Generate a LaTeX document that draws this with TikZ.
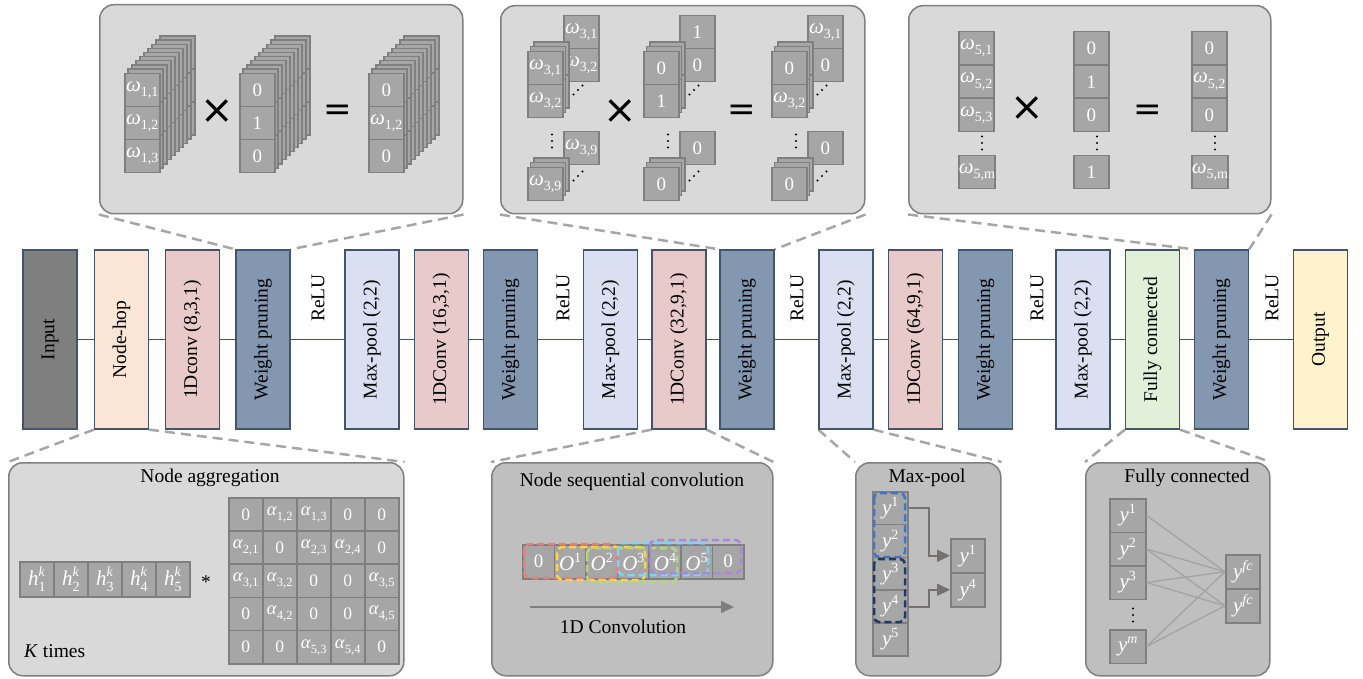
\documentclass[tikz,border=0pt]{standalone}
\usepackage{fontspec}
\setmainfont{Liberation Serif}
\newfontfamily\symfont{DejaVu Sans}
\usetikzlibrary{arrows.meta,backgrounds}
\definecolor{cellf}{HTML}{A6A6A6}
\definecolor{cellb}{HTML}{7F7F7F}
\definecolor{panA}{HTML}{D9D9D9}
\definecolor{panB}{HTML}{BFBFBF}
\definecolor{panbd}{HTML}{7F7F7F}
\definecolor{boxbd}{HTML}{44546A}
\definecolor{cInput}{HTML}{7F7F7F}
\definecolor{cHop}{HTML}{FBE5D6}
\definecolor{cConv}{HTML}{E9CACA}
\definecolor{cWP}{HTML}{8497B0}
\definecolor{cMP}{HTML}{DAE0F2}
\definecolor{cFC}{HTML}{E2F0D9}
\definecolor{cOut}{HTML}{FFF2CC}
\definecolor{dashc}{HTML}{A6A6A6}
\definecolor{arrc}{HTML}{7F7F7F}
\definecolor{mpc}{HTML}{767171}
\definecolor{fcl}{HTML}{A3A3A3}
\definecolor{wRed}{HTML}{EC7C7C}
\definecolor{wYel}{HTML}{FFD447}
\definecolor{wGrn}{HTML}{B4D77D}
\definecolor{wCya}{HTML}{7FD3F7}
\definecolor{wPur}{HTML}{A987D9}
\definecolor{mpBlue}{HTML}{4472C4}
\definecolor{mpNavy}{HTML}{203864}
\newcommand\lbl{\fontsize{19.5}{22}\selectfont}
\newcommand\celltxt{\fontsize{19}{20}\selectfont\def\subsz{14}\def\letsz{21}}
\newcommand\smtxt{\fontsize{17.5}{18}\selectfont\def\subsz{12.5}\def\letsz{18.5}}
\newcommand\subsz{14}
\newcommand\letsz{21}
\newcommand\msub[2]{{\fontsize{\letsz}{\letsz}\selectfont\textit{#1}}\raisebox{-0.28em}{\fontsize{\subsz}{\subsz}\selectfont #2}}
\newcommand\msup[2]{{\fontsize{\letsz}{\letsz}\selectfont\textit{#1}}\raisebox{0.42em}{\fontsize{\subsz}{\subsz}\selectfont #2}}
\newcommand\msubsup[3]{{\fontsize{\letsz}{\letsz}\selectfont\textit{#1}}\rlap{\raisebox{0.45em}{\fontsize{\subsz}{\subsz}\selectfont\textit{#3}}}\raisebox{-0.3em}{\fontsize{\subsz}{\subsz}\selectfont #2}}
\newcommand{\mystack}[6]{%
  \foreach \i in {#4,...,1}{%
    \foreach \j in {1,...,#3}{%
      \filldraw[cellst] ({#1+\i*#5},{#2-\i*#6+(\j-1)*33}) rectangle ++(35,33);
    }%
  }%
}
\newcommand{\diagdots}[2]{\fill[black] ({#1-4.5},{#2+4.5}) circle (1.1pt) (#1,#2) circle (1.1pt) ({#1+4.5},{#2-4.5}) circle (1.1pt);}
\newcommand{\vdotsat}[2]{\fill[black] (#1,{#2-6.5}) circle (1.1pt) (#1,#2) circle (1.1pt) (#1,{#2+6.5}) circle (1.1pt);}
\newcommand{\pgroup}[8]{%
  \node[cell] (#1b1) at ({563+#2},15) {#3};
  \node[cell] (#1b2) at ({563+#2},48) {#4};
  \mystack{527+#2}{51}{2}{2}{3.5}{4.5}
  \node[cell] (#1f1) at ({527+#2},51) {#5};
  \node[cell] (#1f2) at ({527+#2},84) {#6};
  \diagdots{578+#2}{90}
  \vdotsat{552+#2}{141}
  \node[cell] (#1bb) at ({563+#2},131) {#7};
  \mystack{527+#2}{167}{1}{2}{3.5}{4.5}
  \node[cell] (#1fb) at ({527+#2},167) {#8};
  \diagdots{578+#2}{176}
}
\tikzset{
 layer/.style={draw=boxbd, line width=1.3pt, minimum width=54pt, minimum height=179pt, inner sep=0pt, font=\lbl},
 relu/.style={inner sep=0pt, font=\lbl},
 link/.style={draw=boxbd, line width=1.5pt},
 panel/.style={draw=panbd, line width=1.5pt, rounded corners=14pt, anchor=north west, inner sep=0pt},
 cell/.style={draw=cellb, fill=cellf, line width=1.5pt, minimum width=35pt, minimum height=33pt, inner sep=0pt, text=white, font=\celltxt, anchor=north west},
 acell/.style={cell, minimum width=34pt, minimum height=33.2pt, font=\smtxt},
 cellst/.style={draw=cellb, fill=cellf, line width=1.5pt},
 zoomline/.style={draw=dashc, line width=2.5pt, dash pattern=on 10pt off 6pt},
 opx/.style={inner sep=0pt, font=\symfont\fontsize{40}{40}\selectfont},
 opeq/.style={inner sep=0pt, font=\symfont\fontsize{34}{34}\selectfont},
 ttl/.style={inner sep=0pt, font=\lbl},
 win/.style={line width=2.5pt, dash pattern=on 7pt off 4pt, rounded corners=6pt},
 bigarrow/.style={draw=arrc, line width=2pt, -{Triangle[length=13pt,width=12pt]}},
 mparrow/.style={draw=mpc, line width=2pt, -{Triangle[length=13pt,width=12pt]}},
 fcline/.style={draw=fcl, line width=1.3pt},
}
\begin{document}
\begin{tikzpicture}[x=1pt,y=-1pt]
\useasboundingbox (0,0) rectangle (1363,679);

% ---------- main pipeline ----------
\node[layer,fill=cInput] (in) at (50,339.5) {\rotatebox{90}{Input}};
\node[layer,fill=cHop] (nh) at (121.5,339.5) {\rotatebox{90}{Node-hop}};
\node[layer,fill=cConv] (c1) at (192.5,339.5) {\rotatebox{90}{1Dconv (8,3,1)}};
\node[layer,fill=cWP] (w1) at (263,339.5) {\rotatebox{90}{Weight pruning}};
\node[relu] (r1) at (318,298) {\rotatebox{90}{ReLU}};
\node[layer,fill=cMP] (m1) at (372,339.5) {\rotatebox{90}{Max-pool (2,2)}};
\node[layer,fill=cConv] (c2) at (441.5,339.5) {\rotatebox{90}{1DConv (16,3,1)}};
\node[layer,fill=cWP] (w2) at (510.5,339.5) {\rotatebox{90}{Weight pruning}};
\node[relu] (r2) at (563,298) {\rotatebox{90}{ReLU}};
\node[layer,fill=cMP] (m2) at (610.5,339.5) {\rotatebox{90}{Max-pool (2,2)}};
\node[layer,fill=cConv] (c3) at (679,339.5) {\rotatebox{90}{1DConv (32,9,1)}};
\node[layer,fill=cWP] (w3) at (747,339.5) {\rotatebox{90}{Weight pruning}};
\node[relu] (r3) at (797,298) {\rotatebox{90}{ReLU}};
\node[layer,fill=cMP] (m3) at (846,339.5) {\rotatebox{90}{Max-pool (2,2)}};
\node[layer,fill=cConv] (c4) at (915.5,339.5) {\rotatebox{90}{1DConv (64,9,1)}};
\node[layer,fill=cWP] (w4) at (985.5,339.5) {\rotatebox{90}{Weight pruning}};
\node[relu] (r4) at (1037,298) {\rotatebox{90}{ReLU}};
\node[layer,fill=cMP] (m4) at (1083,339.5) {\rotatebox{90}{Max-pool (2,2)}};
\node[layer,fill=cFC] (fc) at (1152.5,339.5) {\rotatebox{90}{Fully connected}};
\node[layer,fill=cWP] (w5) at (1221.5,339.5) {\rotatebox{90}{Weight pruning}};
\node[relu] (r5) at (1272,298) {\rotatebox{90}{ReLU}};
\node[layer,fill=cOut] (out) at (1320.5,339.5) {\rotatebox{90}{Output}};
\foreach \a/\b in {in/nh,nh/c1,c1/w1,w1/m1,m1/c2,c2/w2,w2/m2,m2/c3,c3/w3,w3/m3,m3/c4,c4/w4,w4/m4,m4/fc,fc/w5,w5/out}
  \draw[link] (\a.east) -- (\b.west);

% ---------- panels ----------
\node[panel,fill=panA,minimum width=363pt,minimum height=209pt] (p1) at (99,4) {};
\node[panel,fill=panA,minimum width=364pt,minimum height=208pt] (p2) at (500,5) {};
\node[panel,fill=panA,minimum width=362pt,minimum height=208pt] (p3) at (908,5) {};
\node[panel,fill=panA,minimum width=395pt,minimum height=213pt] (pagg) at (8,462) {};
\node[panel,fill=panB,minimum width=281pt,minimum height=213pt] (pseq) at (491,462) {};
\node[panel,fill=panB,minimum width=145pt,minimum height=213pt] (pmp) at (855,462) {};
\node[panel,fill=panB,minimum width=184pt,minimum height=213pt] (pfc) at (1085,462) {};

\begin{scope}[on background layer]
\draw[zoomline] (p1.south west) -- (w1.north west);
\draw[zoomline] (p1.south east) -- (w1.north east);
\draw[zoomline] (p2.south west) -- (w3.north west);
\draw[zoomline] (p2.south east) -- (w3.north east);
\draw[zoomline] (p3.south west) -- (w5.north west);
\draw[zoomline] (p3.south east) -- (w5.north east);
\draw[zoomline] (nh.south west) -- (pagg.north west);
\draw[zoomline] (nh.south east) -- (pagg.north east);
\draw[zoomline] (c3.south west) -- (pseq.north west);
\draw[zoomline] (c3.south east) -- (pseq.north east);
\draw[zoomline] (m3.south west) -- (pmp.north west);
\draw[zoomline] (m3.south east) -- (pmp.north east);
\draw[zoomline] (fc.south west) -- (pfc.north west);
\draw[zoomline] (fc.south east) -- (pfc.north east);
\end{scope}

% ---------- panel 1 ----------
\mystack{124}{73}{3}{9}{4}{4.1}
\node[cell] (pa1) at (124,73) {\msub{ω}{1,1}};
\node[cell] (pa2) at (124,106) {\msub{ω}{1,2}};
\node[cell] (pa3) at (124,139) {\msub{ω}{1,3}};
\node[opx] (x1) at (217,112) {×};
\mystack{239}{73}{3}{9}{4}{4.1}
\node[cell] (pb1) at (239,73) {0};
\node[cell] (pb2) at (239,106) {1};
\node[cell] (pb3) at (239,139) {0};
\node[opeq] (e1) at (338,113) {=};
\mystack{368}{73}{3}{9}{4}{4.1}
\node[cell] (pc1) at (368,73) {0};
\node[cell] (pc2) at (368,106) {\msub{ω}{1,2}};
\node[cell] (pc3) at (368,139) {0};

% ---------- panel 2 ----------
\pgroup{L}{0}{\msub{ω}{3,1}}{\msub{ω}{3,2}}{\msub{ω}{3,1}}{\msub{ω}{3,2}}{\msub{ω}{3,9}}{\msub{ω}{3,9}}
\node[opx] (x2) at (620,112) {×};
\pgroup{M}{116}{1}{0}{0}{1}{0}{0}
\node[opeq] (e2) at (742,113) {=};
\pgroup{R}{244}{\msub{ω}{3,1}}{0}{0}{\msub{ω}{3,2}}{0}{0}

% ---------- panel 3 ----------
\begin{scope}[every node/.append style={minimum height=33.5pt}]
\node[cell] (q1) at (958,31) {\msub{ω}{5,1}};
\node[cell] (q2) at (958,64.5) {\msub{ω}{5,2}};
\node[cell] (q3) at (958,98) {\msub{ω}{5,3}};
\node[cell] (q4) at (958,155) {\msub{ω}{5,m}};
\node[cell] (s1) at (1073,31) {0};
\node[cell] (s2) at (1073,64.5) {1};
\node[cell] (s3) at (1073,98) {0};
\node[cell] (s4) at (1073,155) {1};
\node[cell] (t1) at (1191,31) {0};
\node[cell] (t2) at (1191,64.5) {\msub{ω}{5,2}};
\node[cell] (t3) at (1191,98) {0};
\node[cell] (t4) at (1191,155) {\msub{ω}{5,m}};
\end{scope}
\vdotsat{982}{143}
\vdotsat{1097}{143}
\vdotsat{1215}{143}
\node[opx] (x3) at (1027,109) {×};
\node[opeq] (e3) at (1148,113) {=};

% ---------- node aggregation ----------
\node[ttl] (tagg) at (210,478) {Node aggregation};
\foreach \k in {1,...,5}
  \node[cell,minimum width=34pt,minimum height=35pt] (h\k) at ({19+(\k-1)*34},561) {\msubsup{h}{\k}{k}};
\node[ttl] (ast) at (206,582) {*};
\foreach \lab [count=\c from 0] in {0,{\msub{α}{1,2}},{\msub{α}{1,3}},0,0}
  \node[acell] (ma\c) at ({228+\c*34},497) {\lab};
\foreach \lab [count=\c from 0] in {{\msub{α}{2,1}},0,{\msub{α}{2,3}},{\msub{α}{2,4}},0}
  \node[acell] (mb\c) at ({228+\c*34},530.2) {\lab};
\foreach \lab [count=\c from 0] in {{\msub{α}{3,1}},{\msub{α}{3,2}},0,0,{\msub{α}{3,5}}}
  \node[acell] (mc\c) at ({228+\c*34},563.4) {\lab};
\foreach \lab [count=\c from 0] in {0,{\msub{α}{4,2}},0,0,{\msub{α}{4,5}}}
  \node[acell] (md\c) at ({228+\c*34},596.6) {\lab};
\foreach \lab [count=\c from 0] in {0,0,{\msub{α}{5,3}},{\msub{α}{5,4}},0}
  \node[acell] (me\c) at ({228+\c*34},629.8) {\lab};
\node[ttl,anchor=west] (kt) at (24,651) {\textit{K} times};

% ---------- node sequential convolution ----------
\node[ttl] (tseq) at (632,482) {Node sequential convolution};
\foreach \lab [count=\c from 0] in {0,{\msup{O}{1}},{\msup{O}{2}},{\msup{O}{3}},{\msup{O}{4}},{\msup{O}{5}},0}
  \node[cell,minimum width=31.6pt,minimum height=34pt] (o\c) at ({522+\c*31.6},544) {\lab};
\draw[win,draw=wRed] (524,544) rectangle (617,578);
\draw[win,draw=wYel] (557,547) rectangle (645,580);
\draw[win,draw=wGrn] (587,548) rectangle (677,582);
\draw[win,draw=wCya] (618,543) rectangle (708,575);
\draw[win,draw=wPur] (650,540) rectangle (741,573);
\coordinate (as) at (530,607);
\coordinate (ae) at (734,607);
\draw[bigarrow] (as) -- (ae);
\node[ttl] (tconv) at (623,627) {1D Convolution};

% ---------- max-pool ----------
\node[ttl] (tmp) at (927,478) {Max-pool};
\foreach \k in {1,...,5}
  \node[cell,minimum width=35pt,minimum height=32.8pt] (y\k) at (872,{491+(\k-1)*32.8}) {\msup{y}{\k}};
\node[cell,minimum width=34pt,minimum height=34pt] (yo1) at (950,538) {\msup{y}{1}};
\node[cell,minimum width=34pt,minimum height=34pt] (yo2) at (950,572) {\msup{y}{4}};
\draw[mparrow] (y1.east) -- ++(20,0) |- (yo1.west);
\draw[mparrow] (y4.east) -- ++(20,0) |- (yo2.west);
\draw[win,draw=mpBlue,rounded corners=5pt] (874,493) rectangle (905,557);
\draw[win,draw=mpNavy,rounded corners=5pt] (874,559) rectangle (905,622);

% ---------- fully connected ----------
\node[ttl] (tfc) at (1187,478) {Fully connected};
\node[cell,minimum width=36pt,minimum height=33.5pt] (fy1) at (1109,498) {\msup{y}{1}};
\node[cell,minimum width=36pt,minimum height=33.5pt] (fy2) at (1109,531.5) {\msup{y}{2}};
\node[cell,minimum width=36pt,minimum height=33.5pt] (fy3) at (1109,565) {\msup{y}{3}};
\node[cell,minimum width=36pt,minimum height=33.5pt] (fym) at (1109,629) {\msup{y}{\textit{m}}};
\vdotsat{1133}{615}
\node[cell,minimum width=34pt,minimum height=34pt] (f1) at (1225,554) {\msup{y}{\textit{fc}}};
\node[cell,minimum width=34pt,minimum height=34pt] (f2) at (1225,588) {\msup{y}{\textit{fc}}};
\draw[fcline] (fy1.east) -- (f1.west);
\draw[fcline] (fy2.east) -- (f1.west);
\draw[fcline] (fy2.east) -- (f2.west);
\draw[fcline] (fy3.east) -- (f1.west);
\draw[fcline] (fy3.east) -- (f2.west);
\draw[fcline] (fym.east) -- (f1.west);
\draw[fcline] (fym.east) -- (f2.west);
\end{tikzpicture}
\end{document}
